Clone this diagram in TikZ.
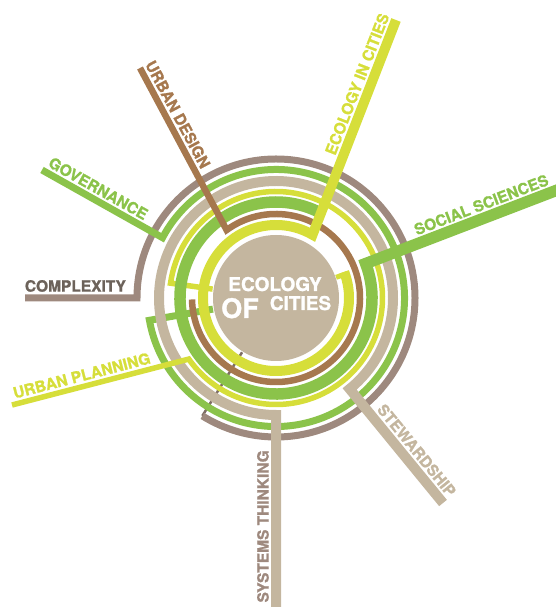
\documentclass[tikz,border=0pt]{standalone}
\usepackage{fontspec}
\setmainfont{TeX Gyre Heros}[BoldFeatures={FakeBold=1.2}]
\usepackage{xcolor}
\usepackage{tikz}
\definecolor{eyellow}{RGB}{214,222,58}
\definecolor{egreen}{RGB}{139,195,74}
\definecolor{ebrown}{RGB}{166,120,78}
\definecolor{etan}{RGB}{196,182,159}
\definecolor{etaupe}{RGB}{158,137,126}
\definecolor{edark}{RGB}{108,98,90}
\tikzset{lab/.style={font=\bfseries\fontsize{15.5}{18}\selectfont, inner sep=0pt, sloped}}

\begin{document}
\begin{tikzpicture}[x=1pt, y=1pt]
\tikzset{ring/.style={line cap=butt, line join=miter}}
    \useasboundingbox (0,0) rectangle (555,607);
    \coordinate (C) at (276,309);

    \coordinate (EcE) at (396,587);
    \coordinate (UdE) at (140,539);
    \coordinate (GoE) at (42,437);
    \coordinate (CoE) at (25,309);
    \coordinate (SsE) at (560,418);
    \coordinate (UpE) at (12,202);
    \coordinate (StE) at (443,104);
    \coordinate (SyE) at (276,0);

    \coordinate (EcJ) at ([shift={(C)}]60:73);
    \coordinate (UdJ) at ([shift={(C)}]126:84);
    \coordinate (SsJ) at ([shift={(C)}]21:96);
    \coordinate (UpJ) at ([shift={(C)}]215:106.5);
    \coordinate (StJ) at ([shift={(C)}]-51:117);
    \coordinate (SyJ) at ([shift={(C)}]270:117);
    \coordinate (GoJ) at ([shift={(C)}]152:128.5);
    \coordinate (CoJ) at ([shift={(C)}]180:139);
% % % % % % % % % % % % % % % % % % %
    \draw[etaupe!80!black, line width=2.5pt] ([shift={(C)}]238:139) -- ([shift={(C)}]238:64);

    \draw[ring, etaupe, line width=7pt] (CoE) -- (CoJ) arc[start angle=180, end angle=-122, radius=139];
    \draw[ring, egreen, line width=7pt] (GoE) -- (GoJ) arc[start angle=152, end angle=-170, radius=128.5] -- ([shift={(C)}]-170:64);
    \draw[ring, etan, line width=10pt] (StE) -- (StJ) arc[start angle=-51, end angle=270, radius=117] -- (SyE);
    \draw[ring, eyellow, line width=5.5pt] (UpE) -- (UpJ) arc[start angle=215, end angle=532, radius=106.5] -- ([shift={(C)}]172:64);
    \draw[ring, egreen, line width=11.5pt] (SsE) -- (SsJ) arc[start angle=21, end angle=-296, radius=96];
    \draw[ring, ebrown, line width=6.5pt] (UdE) -- (UdJ) arc[start angle=126, end angle=-179, radius=84];
    \draw[ring, eyellow, line width=10pt] (EcE) -- (EcJ) arc[start angle=60, end angle=381, radius=73];
    \draw[eyellow, line width=5pt] ([shift={(C)}]19:75) -- ([shift={(C)}]19:63.5);

	\fill[etan] (C) circle[radius=63];
% % % % % % % % % % % % % % % % % % %
    \node[white, font=\bfseries\fontsize{19}{19}\selectfont, anchor=base] (Te) at (275,316) {ECOLOGY};
    \node[white, font=\bfseries\fontsize{27}{27}\selectfont, anchor=base] (To) at (240,289) {OF};
    \node[white, font=\bfseries\fontsize{19}{19}\selectfont, anchor=base] (Tc) at (300.5,297) {CITIES};

    \path (EcJ) -- (EcE) node[lab, pos=0.68, above=7pt, text=eyellow] (LEc) {ECOLOGY IN CITIES};
    \path (UdJ) -- (UdE) node[lab, pos=0.68, above=5.5pt, text=ebrown] (LUd) {URBAN DESIGN};
    \path (GoJ) -- (GoE) node[lab, pos=0.58, above=5.5pt, text=egreen] (LGo) {GOVERNANCE};
    \path (CoJ) -- (CoE) node[lab, pos=0.55, above=6pt, text=edark] (LCo) {COMPLEXITY};
    \path (SsJ) -- (SsE) node[lab, pos=0.62, above=7.5pt, text=egreen] (LSs) {SOCIAL SCIENCES};
    \path (UpJ) -- (UpE) node[lab, pos=0.59, above=5pt, text=eyellow] (LUp) {URBAN PLANNING};
    \path (StJ) -- (StE) node[lab, pos=0.61, above=7pt, text=etan] (LSt) {STEWARDSHIP};
    \path (SyE) -- (SyJ) node[lab, pos=0.42, above=7pt, text=etaupe] (LSy) {SYSTEMS THINKING};
\end{tikzpicture}
\end{document}
